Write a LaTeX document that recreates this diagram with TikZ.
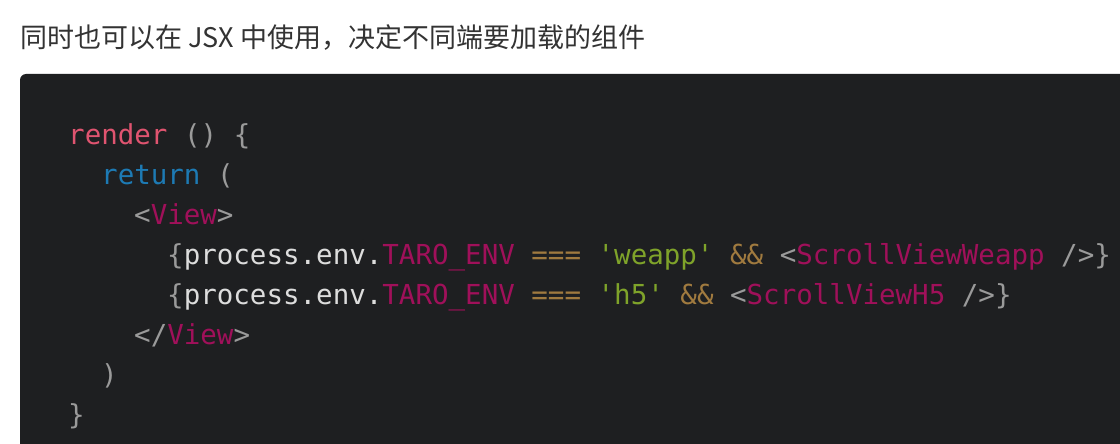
\documentclass[tikz,border=0pt]{standalone}
\usepackage{fontspec}
\setmonofont{DejaVu Sans Mono}
\newfontfamily\cjk{Noto Sans CJK SC}
\definecolor{bgc}{HTML}{1E1F21}
\definecolor{kred}{HTML}{E05470}
\definecolor{kblue}{HTML}{1D7AB4}
\definecolor{kpun}{HTML}{9A9A9A}
\definecolor{ktag}{HTML}{A0105A}
\definecolor{ktxt}{HTML}{DDDDDD}
\definecolor{kstr}{HTML}{7FA32A}
\definecolor{kop}{HTML}{A07A3F}
\definecolor{hdr}{HTML}{333333}
\begin{document}
\begin{tikzpicture}[x=1pt,y=-1pt,
  code/.style={anchor=base west,inner sep=0pt,font=\fontsize{27.5}{30}\ttfamily,text=ktxt}]
\useasboundingbox (0,0) rectangle (1120,444);
\fill[white] (0,0) rectangle (1120,444);
\fill[bgc,rounded corners=6pt] (20,74) rectangle (1140,470);
\node[anchor=base west,inner sep=0pt,font=\cjk\fontsize{27}{30}\selectfont,text=hdr] (h) at (20,48) {同时也可以在 JSX 中使用，决定不同端要加载的组件};
\node[code] (l1) at (68,144) {\textcolor{kred}{render} \textcolor{kpun}{() \{}};
\node[code] (l2) at (101,184) {\textcolor{kblue}{return} \textcolor{kpun}{(}};
\node[code] (l3) at (134,224) {\textcolor{kpun}{<}\textcolor{ktag}{View}\textcolor{kpun}{>}};
\node[code] (l4) at (167,264) {\textcolor{kpun}{\{}process.env.\textcolor{ktag}{TARO\_ENV} \textcolor{kop}{===} \textcolor{kstr}{'weapp'} \textcolor{kop}{\&\&} \textcolor{kpun}{<}\textcolor{ktag}{ScrollViewWeapp} \textcolor{kpun}{/>\}}};
\node[code] (l5) at (167,304) {\textcolor{kpun}{\{}process.env.\textcolor{ktag}{TARO\_ENV} \textcolor{kop}{===} \textcolor{kstr}{'h5'} \textcolor{kop}{\&\&} \textcolor{kpun}{<}\textcolor{ktag}{ScrollViewH5} \textcolor{kpun}{/>\}}};
\node[code] (l6) at (134,344) {\textcolor{kpun}{</}\textcolor{ktag}{View}\textcolor{kpun}{>}};
\node[code] (l7) at (101,384) {\textcolor{kpun}{)}};
\node[code] (l8) at (68,424) {\textcolor{kpun}{\}}};
\end{tikzpicture}
\end{document}
